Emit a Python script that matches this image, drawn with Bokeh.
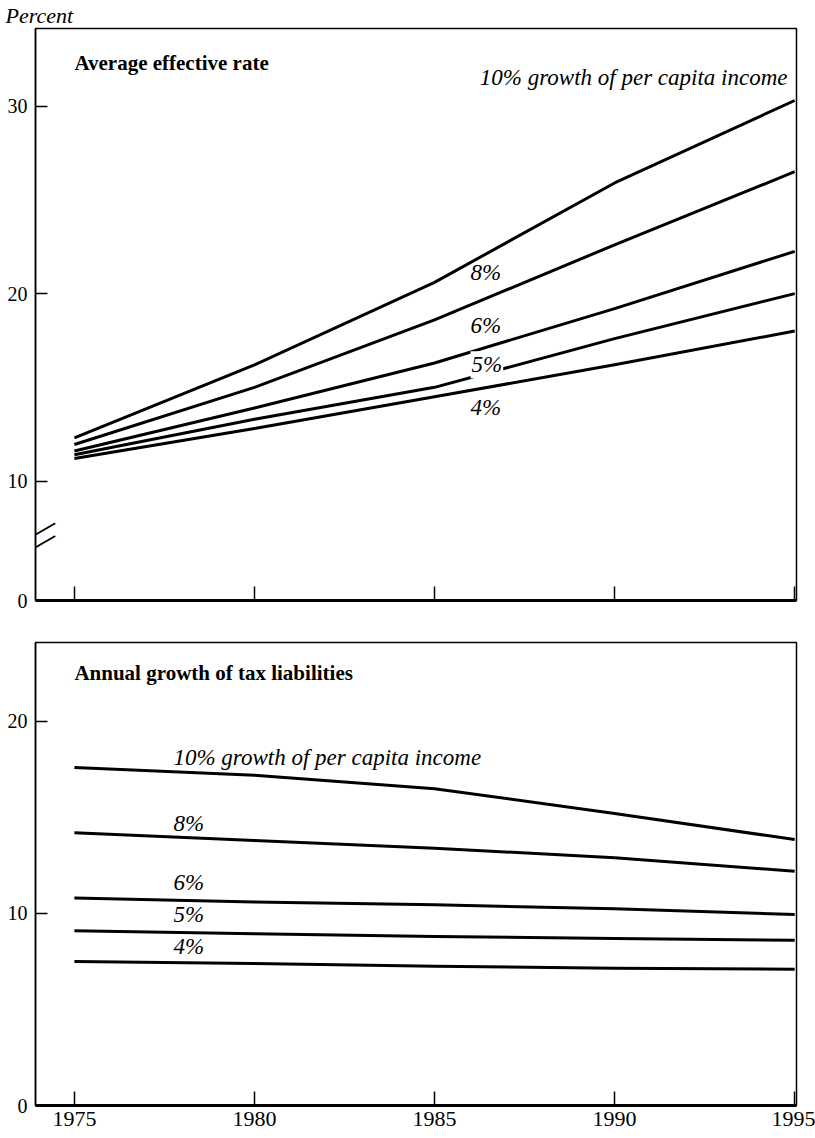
import math
from bokeh.plotting import figure
from bokeh.models import Range1d, FixedTicker, Label, CustomJSTickFormatter
from bokeh.layouts import column
from bokeh.embed import file_html
from bokeh.resources import INLINE

# ---------------- data ----------------
years = [1975, 1980, 1985, 1990, 1995]

# Average effective rate (percent)
rate_10 = [12.3, 16.2, 20.6, 25.9, 30.3]
rate_8 = [11.95, 15.0, 18.6, 22.6, 26.5]
rate_6 = [11.6, 13.9, 16.3, 19.2, 22.25]
rate_5 = [11.4, 13.3, 15.0, 17.6, 20.0]
rate_4 = [11.2, 12.8, 14.5, 16.2, 18.0]

# Annual growth of tax liabilities (percent)
growth_10 = [17.6, 17.2, 16.5, 15.2, 13.85]
growth_8 = [14.2, 13.8, 13.4, 12.9, 12.2]
growth_6 = [10.8, 10.6, 10.45, 10.25, 9.95]
growth_5 = [9.1, 8.95, 8.8, 8.7, 8.6]
growth_4 = [7.5, 7.4, 7.25, 7.15, 7.1]

series_labels = ["10% growth of per capita income", "8%", "6%", "5%", "4%"]
x_ticks = [1975, 1980, 1985, 1990, 1995]
top_y_ticks = [10, 20, 30]
bottom_y_ticks = [0, 10, 20]

# ---------------- styling ----------------
SERIF = "Liberation Serif"
LW = 3
top_floor = 3.63   # broken-axis floor of the top panel, labelled "0"
X0, X1 = 1973.92, 1995.05


def style(p, show_x_labels, yticks, overrides=None):
    p.grid.visible = False
    p.outline_line_color = "black"
    p.outline_line_width = 1.5
    p.background_fill_color = "white"
    p.border_fill_color = "white"
    xa = p.xaxis[0]
    xa.ticker = FixedTicker(ticks=x_ticks)
    xa.major_tick_in = 14
    xa.major_tick_out = 0
    xa.minor_tick_line_color = None
    xa.axis_line_width = 3
    xa.major_tick_line_width = 1.5
    xa.major_label_text_font = SERIF
    xa.major_label_text_color = "black"
    xa.major_label_text_font_size = "22px"
    xa.major_label_standoff = 6
    if not show_x_labels:
        xa.formatter = CustomJSTickFormatter(code="return ''")
    ya = p.yaxis[0]
    ya.ticker = FixedTicker(ticks=yticks)
    ya.major_tick_in = 12
    ya.major_tick_out = 0
    ya.minor_tick_line_color = None
    ya.axis_line_width = 1.5
    ya.major_tick_line_width = 1.5
    ya.major_label_text_font = SERIF
    ya.major_label_text_font_size = "20px"
    ya.major_label_text_color = "black"
    ya.major_label_standoff = 8
    if overrides:
        ya.major_label_overrides = overrides


def lab(p, x, y, text, align="left", bold=False, italic=True, size="23px", bg=None):
    lbl = Label(x=x, y=y, text=text, text_font=SERIF, text_font_size=size,
                text_font_style=("bold" if bold else ("italic" if italic else "normal")),
                text_align=align, text_baseline="middle", text_color="black")
    if bg:
        lbl.background_fill_color = bg
        lbl.padding = 1
    p.add_layout(lbl)


# ---------------- top panel ----------------
p1 = figure(width=815, height=630, x_range=Range1d(X0, X1),
            y_range=Range1d(top_floor, 34.14), output_backend="svg",
            toolbar_location=None, min_border_left=35, min_border_right=19,
            min_border_top=25, min_border_bottom=30)
style(p1, False, [top_floor] + top_y_ticks, {top_floor: "0"})

# "Percent" heading above the frame (title, so it is not clipped)
p1.title.text = "Percent"
p1.title.text_font = SERIF
p1.title.text_font_style = "italic"
p1.title.text_font_size = "22px"
p1.title.text_color = "black"
p1.title.align = "left"
p1.title.offset = -30
p1.title.standoff = 1

for ys in [rate_10, rate_8, rate_6, rate_5, rate_4]:
    p1.line(years, ys, line_color="black", line_width=LW, line_join="round")

lab(p1, 1994.8, 31.5, series_labels[0], align="right")
lab(p1, 1986.0, 21.1, series_labels[1])
lab(p1, 1986.0, 18.3, series_labels[2])
lab(p1, 1986.0, 16.2, series_labels[3], bg="white")
lab(p1, 1986.0, 13.9, series_labels[4])
lab(p1, 1975.0, 32.3, "Average effective rate", bold=True, italic=False, size="21px")

# axis break marks
for yb in (7.45, 6.77):
    p1.add_layout(Label(x=X0 + 0.08, y=yb, text="\u2014", text_font=SERIF,
                        text_font_size="34px", text_align="center",
                        text_baseline="middle", angle=math.radians(30),
                        text_color="black"))

# ---------------- bottom panel ----------------
p2 = figure(width=815, height=508, x_range=Range1d(X0, X1),
            y_range=Range1d(0, 24.11), output_backend="svg",
            toolbar_location=None, min_border_left=35, min_border_right=19,
            min_border_top=12, min_border_bottom=33)
style(p2, True, bottom_y_ticks)

for ys in [growth_10, growth_8, growth_6, growth_5, growth_4]:
    p2.line(years, ys, line_color="black", line_width=LW, line_join="round")

lab(p2, 1977.75, 18.1, series_labels[0])
lab(p2, 1977.75, 14.7, series_labels[1])
lab(p2, 1977.75, 11.6, series_labels[2])
lab(p2, 1977.75, 9.95, series_labels[3])
lab(p2, 1977.75, 8.3, series_labels[4])
lab(p2, 1975.0, 22.5, "Annual growth of tax liabilities", bold=True, italic=False, size="21px")

layout = column(p1, p2, spacing=0)
open("out.html", "w").write(file_html(layout, INLINE))
